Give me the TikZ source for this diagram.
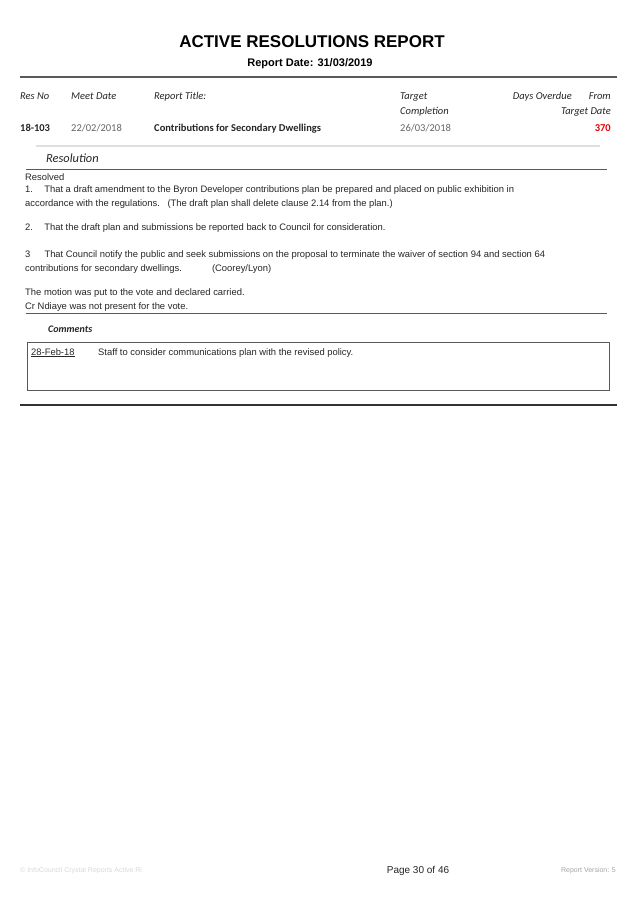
\documentclass[tikz,border=0pt]{standalone}
\usepackage{fontspec}
\setmainfont{Liberation Sans}
\newfontfamily\carlitofont{Carlito}
\definecolor{txt}{gray}{0.15}
\begin{document}
\begin{tikzpicture}[x=1pt,y=-1pt,
  every node/.style={inner sep=0pt,anchor=base west,text=txt},
  body/.style={font=\fontsize{9.4}{10}\selectfont},
  hd/.style={font=\carlitofont\itshape\fontsize{10.5}{11}\selectfont},
  cell/.style={font=\carlitofont\fontsize{10.5}{11}\selectfont}]
\useasboundingbox[fill=white] (0,0) rectangle (637,900);
\node[anchor=base,font=\bfseries\fontsize{17}{18}\selectfont,text=black] (title) at (312,47) {ACTIVE RESOLUTIONS REPORT};
\node[anchor=base,font=\bfseries\fontsize{11}{12}\selectfont,text=black] (date) at (310,66) {Report Date: 31/03/2019};
\draw[gray!70!black,line width=1.3] (20,77) -- (617,77);
\node[hd] (h1) at (20,99) {Res No};
\node[hd] (h2) at (71,99) {Meet Date};
\node[hd] (h3) at (154,99) {Report Title:};
\node[hd] (h4) at (400,99) {Target};
\node[hd,anchor=base east] (h5) at (572,99) {Days Overdue};
\node[hd,anchor=base east] (h6) at (611,99) {From};
\node[hd] (h7) at (400,114) {Completion};
\node[hd,anchor=base east] (h8) at (611,114) {Target Date};
\node[cell,font=\carlitofont\bfseries\fontsize{10.5}{11}\selectfont] (c1) at (20,131) {18-103};
\node[cell,text=gray!80!black] (c2) at (71,131) {22/02/2018};
\node[cell,font=\carlitofont\bfseries\fontsize{10.5}{11}\selectfont] (c3) at (154,131) {Contributions for Secondary Dwellings};
\node[cell,text=gray!80!black] (c4) at (400,131) {26/03/2018};
\node[cell,font=\carlitofont\bfseries\fontsize{10.5}{11}\selectfont,text=red!90!black,anchor=base east] (c5) at (611,131) {370};
\draw[gray!25,line width=1.2] (36,146) -- (600,146);
\node[font=\carlitofont\itshape\fontsize{12.4}{13}\selectfont] (res) at (46,162) {Resolution};
\draw[gray!70!black,line width=1] (26,169) -- (607,169);
\node[body] (t0) at (25,180) {Resolved};
\node[body] (t1) at (25,192) {1.\hspace{1.2em}That a draft amendment to the Byron Developer contributions plan be prepared and placed on public exhibition in};
\node[body] (t2) at (25,206) {accordance with the regulations.\hspace{0.8em}(The draft plan shall delete clause 2.14 from the plan.)};
\node[body] (t3) at (25,230) {2.\hspace{1.2em}That the draft plan and submissions be reported back to Council for consideration.};
\node[body] (t4) at (25,257) {3\hspace{1.5em}That Council notify the public and seek submissions on the proposal to terminate the waiver of section 94 and section 64};
\node[body] (t5) at (25,271) {contributions for secondary dwellings.\hspace{3.2em}(Coorey/Lyon)};
\node[body] (t6) at (25,295) {The motion was put to the vote and declared carried.};
\node[body] (t7) at (25,309) {Cr Ndiaye was not present for the vote.};
\draw[gray!70!black,line width=1] (26,313) -- (607,313);
\node[font=\carlitofont\bfseries\itshape\fontsize{10}{11}\selectfont] (com) at (48,332) {Comments};
\draw[gray!70!black,line width=0.9] (27,342) rectangle (609,390);
\node[body] (d) at (31,355) {\underline{28-Feb-18}};
\node[body] (s) at (98,355) {Staff to consider communications plan with the revised policy.};
\draw[black!80,line width=1.6] (20,405) -- (617,405);
\node[font=\fontsize{7}{8}\selectfont,text=gray!30] (f1) at (20,872) {\textcopyright{} InfoCouncil Crystal Reports Active Ri};
\node[anchor=base,font=\fontsize{10}{11}\selectfont] (f2) at (418,873) {Page 30 of 46};
\node[anchor=base east,font=\fontsize{7}{8}\selectfont,text=gray!70] (f3) at (616,872) {Report Version: 5};
\end{tikzpicture}
\end{document}
